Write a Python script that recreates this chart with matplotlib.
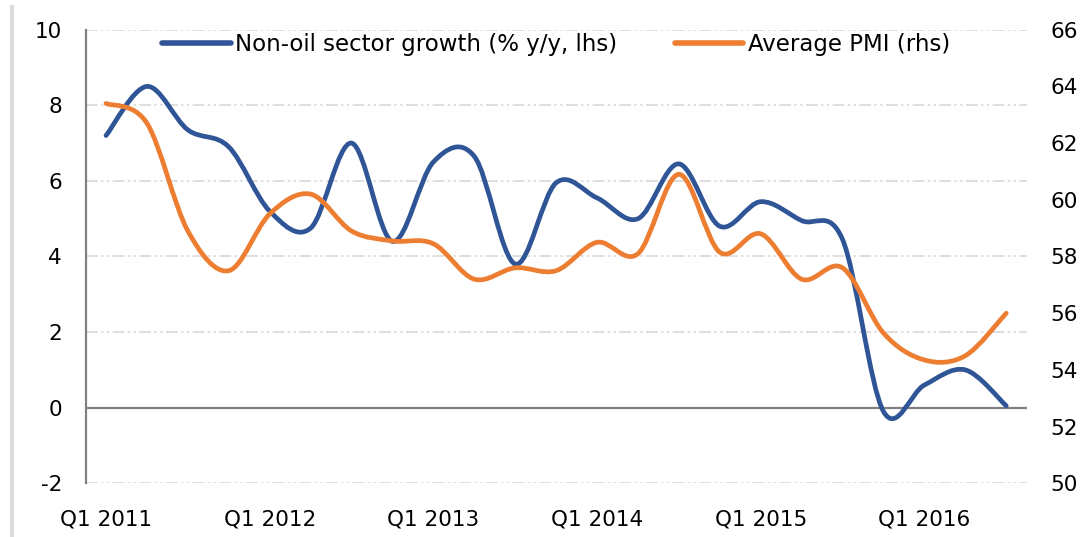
import matplotlib.pyplot as plt
import numpy as np
from matplotlib.path import Path
from matplotlib.patches import PathPatch
from matplotlib.lines import Line2D

plt.rcParams['font.family'] = ['DejaVu Sans']
plt.rcParams['axes.unicode_minus'] = False

# quarterly data, Q1 2011 .. Q3 2016
quarters = [f'Q{q} {y}' for y in range(2011, 2017) for q in range(1, 5)][:23]
non_oil = [7.2, 8.5, 7.35, 6.9, 5.2, 4.75, 7.0, 4.4, 6.5, 6.65, 3.8, 5.95,
           5.55, 5.0, 6.45, 4.8, 5.45, 4.95, 4.45, -0.1, 0.6, 1.0, 0.05]
pmi = [63.4, 62.7, 58.9, 57.5, 59.5, 60.2, 58.9, 58.55, 58.45, 57.2, 57.6, 57.5,
       58.5, 58.1, 60.9, 58.15, 58.8, 57.2, 57.6, 55.3, 54.35, 54.5, 56.0]
label_idx = [0, 4, 8, 12, 16, 20]

blue = '#2F5597'
orange = '#ED7D31'


def smooth_path(x, y):
    # Excel-style smoothed line: cubic bezier through every point
    x = np.asarray(x, float)
    y = np.asarray(y, float)
    px = np.r_[x[0], x, x[-1]]
    py = np.r_[y[0], y, y[-1]]
    verts = [(x[0], y[0])]
    codes = [Path.MOVETO]
    for i in range(len(x) - 1):
        j = i + 1
        c1 = (px[j] + (px[j + 1] - px[j - 1]) / 6, py[j] + (py[j + 1] - py[j - 1]) / 6)
        c2 = (px[j + 1] - (px[j + 2] - px[j]) / 6, py[j + 1] - (py[j + 2] - py[j]) / 6)
        verts += [c1, c2, (x[i + 1], y[i + 1])]
        codes += [Path.CURVE4] * 3
    return Path(verts, codes)


fig = plt.figure(figsize=(10.83, 5.37), dpi=100)
ax = fig.add_axes([0.079, 0.100, 0.869, 0.8447])
ax2 = ax.twinx()

x = np.arange(len(quarters))
ax.add_patch(PathPatch(smooth_path(x, non_oil), fill=False, edgecolor=blue,
                       lw=3.4, capstyle='round', zorder=3))
ax2.add_patch(PathPatch(smooth_path(x, pmi), fill=False, edgecolor=orange,
                        lw=3.4, capstyle='round', zorder=3))

ax.set_xlim(-0.5, len(quarters) - 0.5)
ax.set_ylim(-2, 10)
ax2.set_ylim(50, 66)
ax.set_yticks(np.arange(-2, 11, 2))
ax2.set_yticks(np.arange(50, 67, 2))
ax.set_xticks(label_idx)
ax.set_xticklabels([quarters[i] for i in label_idx])

for a in (ax, ax2):
    for s in ('top', 'right', 'bottom'):
        a.spines[s].set_visible(False)
ax2.spines['left'].set_visible(False)
ax.spines['left'].set_color('#808080')
ax.spines['left'].set_linewidth(1.6)

ax.tick_params(axis='y', length=0, pad=17, labelsize=15.5)
ax.tick_params(axis='x', length=0, pad=19, labelsize=15.5)
ax2.tick_params(axis='y', length=0, pad=17, labelsize=15.5)

ax.yaxis.grid(True, color='#d9d9d9', lw=1.2, linestyle=(0, (7, 2, 1.5, 2, 1.5, 2)))
ax.axhline(0, color='#808080', lw=1.6, zorder=2)
ax.set_axisbelow(True)

handles = [Line2D([], [], color=blue, lw=4, solid_capstyle='round'),
           Line2D([], [], color=orange, lw=4, solid_capstyle='round')]
ax2.legend(handles, ['Non-oil sector growth (% y/y, lhs)', 'Average PMI (rhs)'],
           loc='upper center', bbox_to_anchor=(0.5, 1.0), ncol=2, frameon=False,
           fontsize=16.5, handlelength=3.0, handletextpad=0.2, columnspacing=2.5,
           borderaxespad=0, borderpad=0.15)

# light frame edge on the left of the picture
fig.add_artist(Line2D([12 / 1083] * 2, [0, 1 - 7 / 537], transform=fig.transFigure,
                      color='#dcdcdc', lw=3))

fig.savefig('out.png', dpi=100)
